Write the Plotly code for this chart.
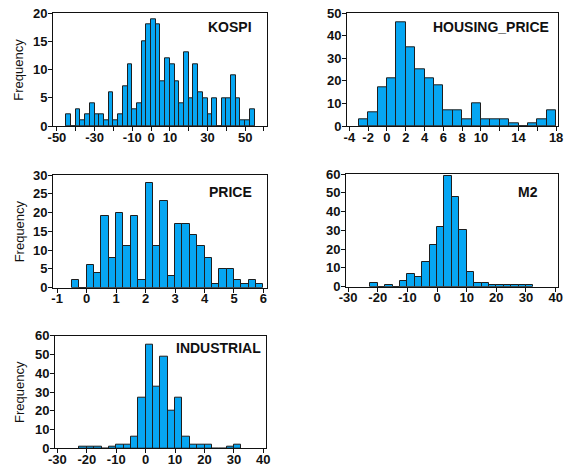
import numpy as np
import plotly.graph_objects as go

# ---- data (histogram bins: first edge, bin width, counts) ----
kospi_start, kospi_width = -45.0, 2.5
kospi_counts = [2, 0, 3, 1, 2, 4, 2, 2, 1, 6, 1, 2, 7, 11, 3, 4, 15, 18,
                19, 18, 8, 12, 11, 8, 4, 13, 5, 11, 6, 5, 2, 5, 0, 5, 5, 9, 5, 1, 1, 3]

housing_start, housing_width = -3.0, 1.0
housing_counts = [3, 6, 17, 21, 46, 35, 25, 21, 18, 7, 7, 3, 10, 3, 3, 3, 1, 0, 1, 3, 7]

price_start, price_width = -0.5, 0.25
price_counts = [2, 0, 6, 4, 19, 8, 20, 11, 19, 2, 28, 11, 23, 3, 17, 17, 14, 11,
                8, 1, 5, 5, 2, 1, 2, 1]

m2_start, m2_width = -22.5, 2.5
m2_counts = [2, 0, 1, 0, 3, 7, 5, 13, 22, 32, 59, 48, 30, 8, 2, 2, 1, 1, 1, 1, 1, 1]

ind_start, ind_width = -22.5, 2.5
ind_counts = [1, 1, 1, 0, 1, 2, 2, 6, 27, 55, 33, 49, 20, 27, 6, 2, 2, 2, 0, 0, 1, 2]

titles = ["KOSPI", "HOUSING_PRICE", "PRICE", "M2", "INDUSTRIAL"]

kospi_ticks = [-50, -40, -30, -20, -10, 0, 10, 20, 30, 40, 50, 60]
kospi_ticktext = ["-50", "", "-30", "", "-10", "0", "10", "", "30", "", "50", ""]
housing_ticks = [-4, -2, 0, 2, 4, 6, 8, 10, 12, 14, 16, 18]
housing_ticktext = ["-4", "-2", "0", "2", "4", "6", "8", "10", "", "14", "", "18"]
price_ticks = [-1, 0, 1, 2, 3, 4, 5, 6]
m2_ticks = [-30, -20, -10, 0, 10, 20, 30, 40]
ind_ticks = [-30, -20, -10, 0, 10, 20, 30, 40]

# ---- layout geometry (window pixels; page margin removed below) ----
W, H = 570, 470
BAR_COLOR = "#06A6F2"
EDGE = "#1e1e1e"


def fx(px):
    return px / W


def fy(py):
    return 1 - py / H


panels = [
    (kospi_start, kospi_width, kospi_counts, [-52.1, 61.6], [0, 20], [0, 5, 10, 15, 20],
     kospi_ticks, kospi_ticktext, (53, 267, 13.3, 126), (230, 27)),
    (housing_start, housing_width, housing_counts, [-4.25, 18.2], [0, 50], [0, 10, 20, 30, 40, 50],
     housing_ticks, housing_ticktext, (347, 558, 13.3, 126), (491, 27)),
    (price_start, price_width, price_counts, [-1.14, 6.12], [0, 30], [0, 5, 10, 15, 20, 25, 30],
     price_ticks, [str(v) for v in price_ticks], (53, 267, 175, 287.7), (230, 192)),
    (m2_start, m2_width, m2_counts, [-30.7, 40.8], [0, 60], [0, 10, 20, 30, 40, 50, 60],
     m2_ticks, [str(v) for v in m2_ticks], (346, 558, 174, 286.7), (528, 192)),
    (ind_start, ind_width, ind_counts, [-30.8, 40.9], [0, 60], [0, 10, 20, 30, 40, 50, 60],
     ind_ticks, [str(v) for v in ind_ticks], (55, 266, 335.7, 448.3), (219, 348)),
]

fig = go.Figure()
layout = dict(width=W, height=H, margin=dict(l=0, r=0, t=0, b=0, pad=0),
              paper_bgcolor="white", plot_bgcolor="white", showlegend=False,
              bargap=0, annotations=[])

tickfont = dict(family="Liberation Sans, Arial, sans-serif", size=13, color="#111", weight="bold")

for i, (start, width, counts, xr, yr, yt, xt, xtt, box, tpos) in enumerate(panels):
    n = i + 1
    xa = "x" if n == 1 else f"x{n}"
    ya = "y" if n == 1 else f"y{n}"
    centers = start + width * (np.arange(len(counts)) + 0.5)
    fig.add_trace(go.Bar(x=centers, y=counts, width=width, xaxis=xa, yaxis=ya,
                         marker=dict(color=BAR_COLOR, line=dict(color=EDGE, width=1)),
                         hoverinfo="x+y"))
    x0, x1, yt0, yb = box
    xkey = "xaxis" if n == 1 else f"xaxis{n}"
    ykey = "yaxis" if n == 1 else f"yaxis{n}"
    layout[xkey] = dict(domain=[fx(x0), fx(x1)], range=xr, anchor=ya, automargin=False,
                        tickmode="array", tickvals=xt, ticktext=xtt,
                        ticks="outside", ticklen=4, tickwidth=1, tickcolor="#111",
                        ticklabelstandoff=-5,
                        showline=True, linecolor="#111", linewidth=1, mirror=True,
                        showgrid=False, zeroline=False, tickfont=tickfont)
    layout[ykey] = dict(domain=[fy(yb), fy(yt0)], range=yr, anchor=xa, automargin=False,
                        tickmode="array", tickvals=yt,
                        ticks="outside", ticklen=4, tickwidth=1, tickcolor="#111",
                        ticklabelstandoff=-2,
                        showline=True, linecolor="#111", linewidth=1, mirror=True,
                        showgrid=False, zeroline=False, tickfont=tickfont)
    layout["annotations"].append(dict(
        text=titles[i], x=fx(tpos[0]), y=fy(tpos[1]), xref="paper", yref="paper",
        showarrow=False, xanchor="center", yanchor="middle",
        font=dict(family="Liberation Sans, Arial, sans-serif", size=14, color="#111", weight="bold")))
    if x0 < 100:
        layout["annotations"].append(dict(
            text="Frequency", x=fx(19), y=fy((yt0 + yb) / 2), xref="paper", yref="paper",
            showarrow=False, textangle=-90, xanchor="center", yanchor="middle",
            font=dict(family="Liberation Sans, Arial, sans-serif", size=13, color="#111")))

fig.update_layout(**layout)
fig.write_html(
    "out.html",
    config={"displayModeBar": False},
    post_script="document.body.style.margin='0';document.body.style.padding='0';"
                "document.body.style.overflow='hidden';",
)
